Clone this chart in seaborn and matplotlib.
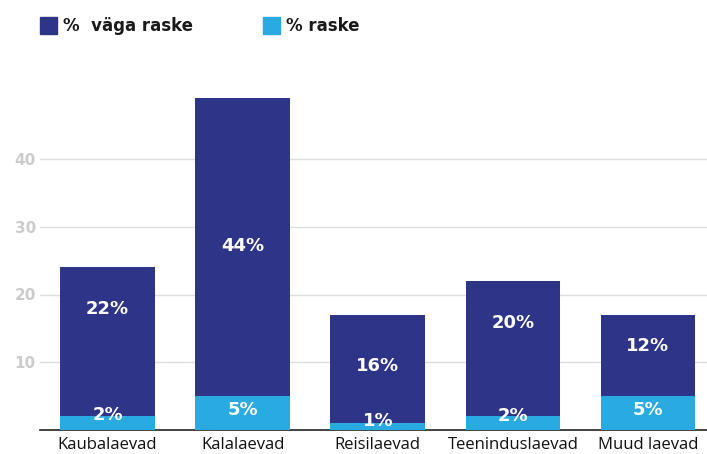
import matplotlib
matplotlib.use("Agg")
import matplotlib.pyplot as plt
from matplotlib.patches import Rectangle
import seaborn as sns
import pandas as pd

# andmed
laevad = ["Kaubalaevad", "Kalalaevad", "Reisilaevad", "Teeninduslaevad", "Muud laevad"]
vaga_raske = [22, 44, 16, 20, 12]
raske = [2, 5, 1, 2, 5]

# sildi kõrgused (loetud pildilt)
vaga_silt_y = [17.9, 27.2, 9.4, 15.8, 12.4]
raske_silt_y = [2.2, 3.0, 1.3, 2.1, 3.0]

TUME = "#2E3589"
HELE = "#29ABE2"

df = pd.DataFrame({"laev": laevad, "vaga": vaga_raske, "raske": raske})
df["kokku"] = df["vaga"] + df["raske"]

sns.set_style("white")
plt.rcParams["font.family"] = ["Open Sans", "DejaVu Sans"]
BOLD = ["DejaVu Sans"]

fig = plt.figure(figsize=(7.07, 4.54), dpi=100)
W, H = 707, 454
ax = fig.add_axes([40 / W, 1 - 430 / H, 667 / W, (430 - 77.7) / H])

sns.barplot(data=df, x="laev", y="kokku", color=TUME, width=0.7, ax=ax,
            saturation=1, linewidth=0, zorder=3)
sns.barplot(data=df, x="laev", y="raske", color=HELE, width=0.7, ax=ax,
            saturation=1, linewidth=0, zorder=3)

for i, (v, r) in enumerate(zip(vaga_raske, raske)):
    ax.text(i, vaga_silt_y[i], f"{v}%", ha="center", va="center", color="white",
            fontsize=13, fontweight="bold", family=BOLD, zorder=5)
    ax.text(i, raske_silt_y[i], f"{r}%", ha="center", va="center", color="white",
            fontsize=13, fontweight="bold", family=BOLD, zorder=5)

ax.set_xlim(-0.5, 4.437)
ax.set_ylim(0, 52)
ax.set_yticks([10, 20, 30, 40])
ax.yaxis.grid(True, color="#dddddd", linewidth=1)
ax.set_axisbelow(True)
for s in ["top", "right", "left"]:
    ax.spines[s].set_visible(False)
ax.spines["bottom"].set_color("#222222")
ax.spines["bottom"].set_linewidth(1.2)
ax.set_xlabel("")
ax.set_ylabel("")
ax.tick_params(axis="y", length=0, pad=3, labelcolor="#cccccc", labelsize=11)
for t in ax.get_yticklabels():
    t.set_fontweight("bold")
    t.set_family(BOLD)
ax.tick_params(axis="x", length=0, pad=5, labelcolor="#111111", labelsize=12)

# legend
for x0, col, txt in [(40, TUME, "%  väga raske"), (263, HELE, "% raske")]:
    fig.patches.append(Rectangle((x0 / W, 1 - 34 / H), 17 / W, 17 / H,
                                 transform=fig.transFigure, color=col))
    fig.text((x0 + 23) / W, 1 - 26 / H, txt, va="center", ha="left",
             fontsize=12, fontweight="bold", family=BOLD, color="#1a1a1a")

fig.savefig("out.png", dpi=100)
